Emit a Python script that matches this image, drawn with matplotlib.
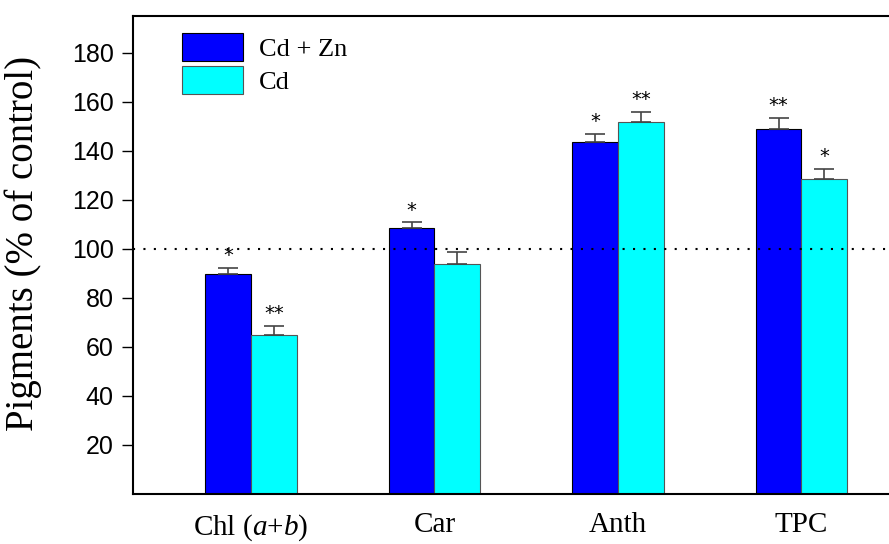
import numpy as np
import matplotlib
matplotlib.use("Agg")
import matplotlib.pyplot as plt

categories = ["Chl ($a$+$b$)", "Car", "Anth", "TPC"]
cdzn = [89.6, 108.7, 143.6, 149.1]
cdzn_err = [2.6, 2.1, 3.2, 4.2]
cd = [64.8, 93.9, 151.9, 128.6]
cd_err = [3.7, 4.8, 3.9, 3.9]
cdzn_sig = ["*", "*", "*", "**"]
cd_sig = ["**", "", "**", "*"]
series_names = ["Cd + Zn", "Cd"]
control_level = 100
yticks = [20, 40, 60, 80, 100, 120, 140, 160, 180]

plt.rcParams['mathtext.fontset'] = 'custom'
plt.rcParams['mathtext.rm'] = 'Liberation Serif'
plt.rcParams['mathtext.it'] = 'Liberation Serif:italic'

W, H = 889, 544
fig = plt.figure(figsize=(W / 100, H / 100), dpi=100)
ax_l, ax_r, ax_b, ax_t = 133, 891, 494, 16
ax = fig.add_axes([ax_l / W, 1 - ax_b / H, (ax_r - ax_l) / W, (ax_b - ax_t) / H])

x = np.arange(len(categories))
bw = 0.25
ax.bar(x - bw / 2, cdzn, bw, color="#0000FF", edgecolor="black", linewidth=0.8,
       label=series_names[0], zorder=2)
ax.bar(x + bw / 2, cd, bw, color="#00FFFF", edgecolor="#555555", linewidth=0.8,
       label=series_names[1], zorder=2)
ax.errorbar(x - bw / 2, cdzn, yerr=[np.zeros(len(cdzn)), cdzn_err], fmt="none",
            ecolor="#444444", elinewidth=1.2, capsize=7, capthick=1.2, zorder=3)
ax.errorbar(x + bw / 2, cd, yerr=[np.zeros(len(cd)), cd_err], fmt="none",
            ecolor="#444444", elinewidth=1.2, capsize=7, capthick=1.2, zorder=3)

for xi, v, e, s in zip(x - bw / 2, cdzn, cdzn_err, cdzn_sig):
    if s:
        ax.annotate(s, (xi, v + e), xytext=(0, 2), textcoords="offset points",
                    ha="center", va="bottom", fontsize=14,
                    family="DejaVu Sans")
for xi, v, e, s in zip(x + bw / 2, cd, cd_err, cd_sig):
    if s:
        ax.annotate(s, (xi, v + e), xytext=(0, 2), textcoords="offset points",
                    ha="center", va="bottom", fontsize=14,
                    family="DejaVu Sans")

ax.axhline(control_level, color="black", linestyle=(0, (1, 4)), linewidth=1.5, zorder=4)

unit = 183.5
x0 = 251
ax.set_xlim((ax_l - x0) / unit, (ax_r - x0) / unit)
ax.set_ylim(0, 195)
ax.set_yticks(yticks)
ax.set_yticklabels([str(t) for t in yticks], family="Liberation Sans", fontsize=18)
ax.set_xticks(x)
ax.set_xticklabels(categories, family="Liberation Serif", fontsize=21)
ax.tick_params(axis="x", length=0, pad=13)
ax.tick_params(axis="y", direction="out", length=8, width=1, pad=6)
ax.set_ylabel("Pigments (% of control)", family="Liberation Serif", fontsize=28)
ax.yaxis.set_label_coords(-0.12, 0.525)
for sp in ax.spines.values():
    sp.set_linewidth(1.5)

ax.legend(loc="upper left", bbox_to_anchor=((182 - ax_l) / (ax_r - ax_l), (ax_b - 33) / (ax_b - ax_t)),
          frameon=False, borderaxespad=0, borderpad=0, prop={"family": "Liberation Serif", "size": 19},
          handlelength=2.3, handleheight=1.25, labelspacing=0.2, handletextpad=0.6)

fig.savefig("out.png", dpi=100)
